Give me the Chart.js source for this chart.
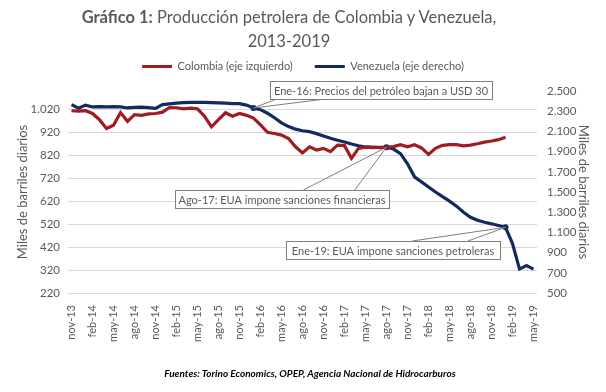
<!DOCTYPE html>
<html><head><meta charset="utf-8">
<script src="https://cdn.jsdelivr.net/npm/chart.js@4"></script>
<style>
html,body{margin:0;padding:0;background:#fff;}
#wrap{position:relative;width:606px;height:392px;overflow:hidden;}
canvas{position:absolute;left:0;top:0;}
#title{position:absolute;left:0;top:5px;width:578px;text-align:center;font-family:Lato,sans-serif;font-size:16.5px;color:#595959;line-height:24px;}
#title b{font-weight:bold;}
#src{position:absolute;left:7px;width:606px;top:366px;text-align:center;font-family:Lato,sans-serif;font-style:italic;font-weight:bold;font-size:10px;line-height:14px;color:#000;}
</style></head>
<body><div id="wrap"><canvas id="c" width="606" height="392"></canvas>
<div id="title"><b>Gráfico 1:</b> Producción petrolera de Colombia y Venezuela,<br>2013-2019</div>
<div id="src">Fuentes: Torino Economics, OPEP, Agencia Nacional de Hidrocarburos</div></div>
<script>
const months = ['nov-13','dic-13','ene-14','feb-14','mar-14','abr-14','may-14','jun-14','jul-14','ago-14','sep-14','oct-14','nov-14','dic-14','ene-15','feb-15','mar-15','abr-15','may-15','jun-15','jul-15','ago-15','sep-15','oct-15','nov-15','dic-15','ene-16','feb-16','mar-16','abr-16','may-16','jun-16','jul-16','ago-16','sep-16','oct-16','nov-16','dic-16','ene-17','feb-17','mar-17','abr-17','may-17','jun-17','jul-17','ago-17','sep-17','oct-17','nov-17','dic-17','ene-18','feb-18','mar-18','abr-18','may-18','jun-18','jul-18','ago-18','sep-18','oct-18','nov-18','dic-18','ene-19','feb-19','mar-19','abr-19','may-19'];
const colombia = [1014,1012,1014,1002,975,937,951,1006,968,997,994,1000,1002,1008,1028,1027,1022,1025,1022,990,944,975,1005,990,1002,994,982,952,920,915,908,893,857,830,857,843,850,836,864,862,807,850,855,853,855,855,858,866,857,866,852,824,850,863,866,866,861,864,870,877,882,888,899];
const venezuela = [2365,2330,2360,2342,2345,2342,2345,2342,2332,2338,2340,2335,2328,2365,2372,2380,2385,2388,2388,2388,2385,2383,2380,2375,2375,2360,2332,2315,2280,2235,2185,2148,2122,2106,2098,2078,2055,2032,2012,1995,1975,1958,1946,1945,1940,1943,1925,1880,1780,1650,1600,1550,1500,1455,1410,1360,1300,1250,1220,1200,1185,1168,1150,990,737,772,737];
const leftTicks = [220,320,420,520,620,720,820,920,1020];
const rightTicks = [500,700,900,1100,1300,1500,1700,1900,2100,2300,2500];
const seriesNames = ['Colombia (eje izquierdo)','Venezuela (eje derecho)'];
const callouts = [
  {text:'Ene-16: Precios del petróleo bajan a USD 30', point:26, boxX:44.2, boxY:1105, w:222, h:18, edge:'bottom', wedge:[0.03,0.25]},
  {text:'Ago-17: EUA impone sanciones financieras', point:45, boxX:30.07, boxY:629, w:214, h:18, edge:'top', wedge:[0.6,0.84]},
  {text:'Ene-19: EUA impone sanciones petroleras', point:62, boxX:45.93, boxY:406, w:214, h:18, edge:'top', wedge:[0.59,0.85]}
];
const markIdx = callouts.map(c=>c.point);
const FONT = 'Lato';
const GRAY = '#595959';
const fmt = v => v >= 1000 ? Math.floor(v/1000) + '.' + String(v%1000).padStart(3,'0') : String(v);

const legendSpacer = {id:'legendSpacer', beforeInit(chart){
  const fit = chart.legend.fit;
  chart.legend.fit = function(){ fit.call(this); this.height += 9; };
}};
const calloutPlugin = {id:'callouts', afterDatasetsDraw(chart){
  const {ctx, scales:{x, y, y1}} = chart;
  callouts.forEach(c=>{
    const px = x.getPixelForValue(c.point), py = y1.getPixelForValue(venezuela[c.point]);
    const cx = x.getPixelForValue(c.boxX), cy = y.getPixelForValue(c.boxY);
    const left = Math.round(cx - c.w/2), top = Math.round(cy - c.h/2);
    const ey = c.edge === 'top' ? top : top + c.h;
    ctx.save();
    ctx.strokeStyle = '#7f7f7f'; ctx.lineWidth = 1;
    c.wedge.forEach(f=>{ ctx.beginPath(); ctx.moveTo(px, py); ctx.lineTo(left + f*c.w, ey); ctx.stroke(); });
    ctx.fillStyle = '#fff'; ctx.fillRect(left, top, c.w, c.h);
    ctx.strokeRect(left + 0.5, top + 0.5, c.w, c.h);
    ctx.fillStyle = GRAY; ctx.font = '11px ' + FONT; ctx.textAlign = 'center'; ctx.textBaseline = 'middle';
    ctx.fillText(c.text, left + c.w/2, top + c.h/2 + 1);
    ctx.restore();
  });
}};

new Chart(document.getElementById('c'), {
  type:'line',
  data:{labels:months, datasets:[
    {label:seriesNames[0], data:colombia, yAxisID:'y', borderColor:'#a01c22', backgroundColor:'#a01c22', borderWidth:3.2, pointRadius:0, tension:0},
    {label:seriesNames[1], data:venezuela, yAxisID:'y1', borderColor:'#132a5e', backgroundColor:'#132a5e', borderWidth:3.2, tension:0,
     pointRadius: ctx => markIdx.includes(ctx.dataIndex) ? 3 : 0, pointBackgroundColor:'#132a5e', pointBorderWidth:0}
  ]},
  options:{
    responsive:false, animation:false, devicePixelRatio:1,
    layout:{padding:{top:39, left:0, right:0, bottom:0}},
    plugins:{
      legend:{display:true, position:'top', labels:{boxWidth:30, boxHeight:3, padding:22, color:GRAY, font:{family:FONT, size:11},
        generateLabels(chart){ const items = Chart.defaults.plugins.legend.labels.generateLabels(chart); items.forEach(it=>{it.lineWidth=0;}); return items; }}},
      tooltip:{enabled:false}, title:{display:false}
    },
    scales:{
      x:{type:'category', offset:true, grid:{display:false}, border:{display:false},
        ticks:{autoSkip:false, maxRotation:90, minRotation:90, padding:4, color:GRAY, font:{family:FONT, size:11},
          callback:(v,i)=> i%3===0 ? months[i] : null},
        afterFit:s=>{s.height = 99;}},
      y:{position:'left', min:220, max:1100,
        afterBuildTicks:s=>{s.ticks = leftTicks.map(v=>({value:v}));},
        grid:{color:'#d9d9d9', drawTicks:false}, border:{display:false},
        ticks:{padding:8, color:GRAY, font:{family:FONT, size:11.5}, callback:fmt},
        title:{display:true, text:'Miles de barriles diarios', color:GRAY, font:{family:FONT, size:13}, padding:{top:15, bottom:0}},
        afterFit:s=>{s.width = 68;}},
      y1:{position:'right', min:500, max:2500,
        afterBuildTicks:s=>{s.ticks = rightTicks.map(v=>({value:v}));},
        grid:{display:false, drawTicks:false}, border:{display:false},
        ticks:{padding:10, color:GRAY, font:{family:FONT, size:11.5}, callback:fmt},
        title:{display:true, text:'Miles de barriles diarios', color:GRAY, font:{family:FONT, size:13}, padding:{top:15, bottom:0}},
        afterFit:s=>{s.width = 69;}}
    }
  },
  plugins:[legendSpacer, calloutPlugin]
});
</script></body></html>
